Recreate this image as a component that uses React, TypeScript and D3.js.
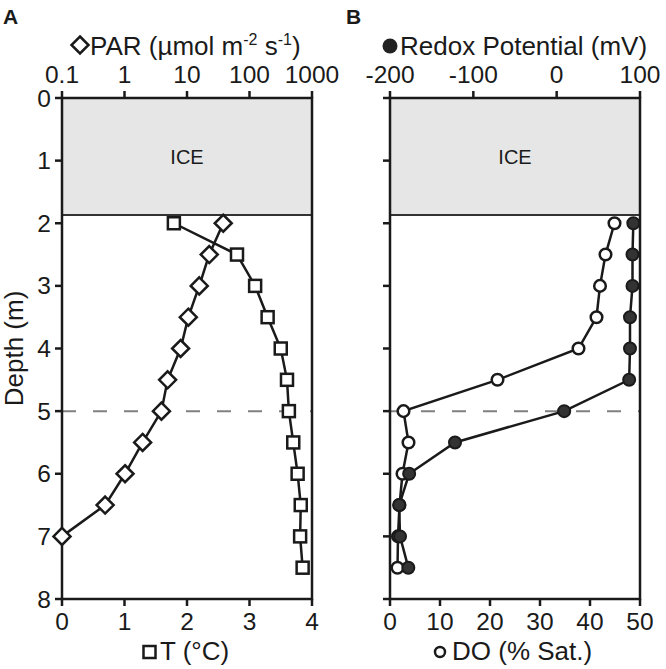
import React from 'react';
import * as d3 from 'd3';

const depthLevels = [2, 2.5, 3, 3.5, 4, 4.5, 5, 5.5, 6, 6.5, 7, 7.5];
const parDepths = [2, 2.5, 3, 3.5, 4, 4.5, 5, 5.5, 6, 6.5, 7];
const parValues = [38, 22.7, 15.7, 10.5, 7.9, 4.9, 3.9, 1.95, 1.02, 0.49, 0.1];
const tempValues = [1.79, 2.8, 3.09, 3.29, 3.5, 3.6, 3.63, 3.7, 3.77, 3.82, 3.81, 3.85];
const doValues = [44.9, 43.1, 42, 41.3, 37.7, 21.5, 2.7, 3.7, 2.5, 1.9, 1.6, 1.5];
const redoxValues = [92, 91, 91, 88, 88, 87, 9, -122, -177, -189, -188, -178];

const depthTicks = [0, 1, 2, 3, 4, 5, 6, 7, 8];
const parTicks = [0.1, 1, 10, 100, 1000];
const parTickLabels = ['0.1', '1', '10', '100', '1000'];
const tempTicks = [0, 1, 2, 3, 4];
const redoxTicks = [-200, -100, 0, 100];
const doTicks = [0, 10, 20, 30, 40, 50];
const iceDepth = 1.87;
const chemoclineDepth = 5;

const TOP = 98;
const BOTTOM = 599;
const A_LEFT = 62;
const A_RIGHT = 312;
const B_LEFT = 390;
const B_RIGHT = 640;

const FONT = 'Liberation Sans, Arial, Helvetica, sans-serif';
const INK = '#1a1a1a';
const TICK_FS = 24.5;
const TITLE_FS = 26;

export default function App() {
  const y = d3.scaleLinear().domain([0, 8]).range([TOP, BOTTOM]);
  const xPar = d3.scaleLog().domain([0.1, 1000]).range([A_LEFT, A_RIGHT]);
  const xT = d3.scaleLinear().domain([0, 4]).range([A_LEFT, A_RIGHT]);
  const xRedox = d3.scaleLinear().domain([-200, 100]).range([B_LEFT, B_RIGHT]);
  const xDO = d3.scaleLinear().domain([0, 50]).range([B_LEFT, B_RIGHT]);

  const parPts = parDepths.map((d, i) => [xPar(parValues[i]), y(d)] as [number, number]);
  const tPts = depthLevels.map((d, i) => [xT(tempValues[i]), y(d)] as [number, number]);
  const doPts = depthLevels.map((d, i) => [xDO(doValues[i]), y(d)] as [number, number]);
  const rxPts = depthLevels.map((d, i) => [xRedox(redoxValues[i]), y(d)] as [number, number]);
  const line = d3.line();

  const panelFrame = (l: number, r: number, showLabels: boolean) => (
    <g>
      <rect x={l} y={TOP} width={r - l} height={y(iceDepth) - TOP} fill="#e6e6e6" />
      <line x1={l} x2={r} y1={y(iceDepth)} y2={y(iceDepth)} stroke="#333" strokeWidth={2} />
      <text x={(l + r) / 2} y={y(iceDepth / 2)} textAnchor="middle" dominantBaseline="central"
        fontSize={20} fontFamily={FONT} fill={INK}>ICE</text>
      <line x1={l} x2={r} y1={y(chemoclineDepth)} y2={y(chemoclineDepth)} stroke="#808080"
        strokeWidth={2} strokeDasharray="14 17" />
      {depthTicks.map((d) => (
        <g key={d}>
          <line x1={l - 7} x2={l} y1={y(d)} y2={y(d)} stroke={INK} strokeWidth={2.5} />
          {showLabels && (
            <text x={l - 11} y={y(d)} textAnchor="end" dominantBaseline="central"
              fontSize={TICK_FS} fontFamily={FONT} fill={INK}>{d}</text>
          )}
        </g>
      ))}
      <rect x={l} y={TOP} width={r - l} height={BOTTOM - TOP} fill="none" stroke={INK} strokeWidth={2.5} />
    </g>
  );

  const diamond = (cx: number, cy: number, k: number | string) => (
    <path key={k} d={`M${cx},${cy - 8.5}L${cx + 8.5},${cy}L${cx},${cy + 8.5}L${cx - 8.5},${cy}Z`}
      fill="#fff" stroke={INK} strokeWidth={2.5} />
  );
  const square = (cx: number, cy: number, k: number | string) => (
    <rect key={k} x={cx - 6} y={cy - 6} width={12} height={12} fill="#fff" stroke={INK} strokeWidth={2.5} />
  );

  return (
    <svg width={666} height={669} style={{ position: 'absolute', left: 0, top: 0, background: '#fff' }}>
      <rect width={666} height={669} fill="#fff" />
      {/* Panel labels */}
      <text x={3} y={24} fontSize={21} fontWeight="bold" fontFamily={FONT} fill={INK}>A</text>
      <text x={346} y={24} fontSize={21} fontWeight="bold" fontFamily={FONT} fill={INK}>B</text>

      {/* Panel A */}
      {panelFrame(A_LEFT, A_RIGHT, true)}
      {parTicks.map((t, i) => (
        <g key={t}>
          <line x1={xPar(t)} x2={xPar(t)} y1={TOP - 7} y2={TOP} stroke={INK} strokeWidth={2.5} />
          <text x={xPar(t)} y={83} textAnchor="middle" fontSize={TICK_FS} fontFamily={FONT} fill={INK}>{parTickLabels[i]}</text>
        </g>
      ))}
      {tempTicks.map((t) => (
        <g key={t}>
          <line x1={xT(t)} x2={xT(t)} y1={BOTTOM} y2={BOTTOM + 7} stroke={INK} strokeWidth={2.5} />
          <text x={xT(t)} y={630} textAnchor="middle" fontSize={TICK_FS} fontFamily={FONT} fill={INK}>{t}</text>
        </g>
      ))}
      <path d={line(tPts) || ''} fill="none" stroke={INK} strokeWidth={2.5} />
      <path d={line(parPts) || ''} fill="none" stroke={INK} strokeWidth={2.5} />
      {tPts.map((p, i) => square(p[0], p[1], i))}
      {parPts.map((p, i) => diamond(p[0], p[1], i))}

      {/* Panel B */}
      {panelFrame(B_LEFT, B_RIGHT, false)}
      {redoxTicks.map((t) => (
        <g key={t}>
          <line x1={xRedox(t)} x2={xRedox(t)} y1={TOP - 7} y2={TOP} stroke={INK} strokeWidth={2.5} />
          <text x={xRedox(t)} y={83} textAnchor="middle" fontSize={TICK_FS} fontFamily={FONT} fill={INK}>{t}</text>
        </g>
      ))}
      {doTicks.map((t) => (
        <g key={t}>
          <line x1={xDO(t)} x2={xDO(t)} y1={BOTTOM} y2={BOTTOM + 7} stroke={INK} strokeWidth={2.5} />
          <text x={xDO(t)} y={630} textAnchor="middle" fontSize={TICK_FS} fontFamily={FONT} fill={INK}>{t}</text>
        </g>
      ))}
      <path d={line(doPts) || ''} fill="none" stroke={INK} strokeWidth={2.5} />
      <path d={line(rxPts) || ''} fill="none" stroke={INK} strokeWidth={2.5} />
      {doPts.map((p, i) => (
        <circle key={i} cx={p[0]} cy={p[1]} r={5.8} fill="#fff" stroke={INK} strokeWidth={2.5} />
      ))}
      {rxPts.map((p, i) => (
        <circle key={i} cx={p[0]} cy={p[1]} r={6} fill="#333" stroke={INK} strokeWidth={2} />
      ))}

      {/* Axis titles */}
      {diamond(80, 45, 'lg-d')}
      <text x={90} y={55} fontSize={TITLE_FS} fontFamily={FONT} fill={INK}>
        PAR (µmol m<tspan fontSize={16} dy={-10}>-2</tspan><tspan dy={10}> s</tspan><tspan fontSize={16} dy={-10}>-1</tspan><tspan dy={10}>)</tspan>
      </text>
      <circle cx={390} cy={46} r={7.5} fill="#222" />
      <text x={400} y={55} fontSize={TITLE_FS} fontFamily={FONT} fill={INK}>Redox Potential (mV)</text>
      {square(149.5, 652, 'lg-s')}
      <text x={160} y={660} fontSize={TITLE_FS} fontFamily={FONT} fill={INK}>T (°C)</text>
      <circle cx={440} cy={652} r={5} fill="#fff" stroke={INK} strokeWidth={2.5} />
      <text x={452} y={660} fontSize={TITLE_FS} fontFamily={FONT} fill={INK}>DO (% Sat.)</text>

      {/* Y axis title */}
      <text transform={`translate(14,${(TOP + BOTTOM) / 2}) rotate(-90)`} textAnchor="middle"
        dominantBaseline="central" fontSize={TITLE_FS} fontFamily={FONT} fill={INK}>Depth (m)</text>
    </svg>
  );
}
